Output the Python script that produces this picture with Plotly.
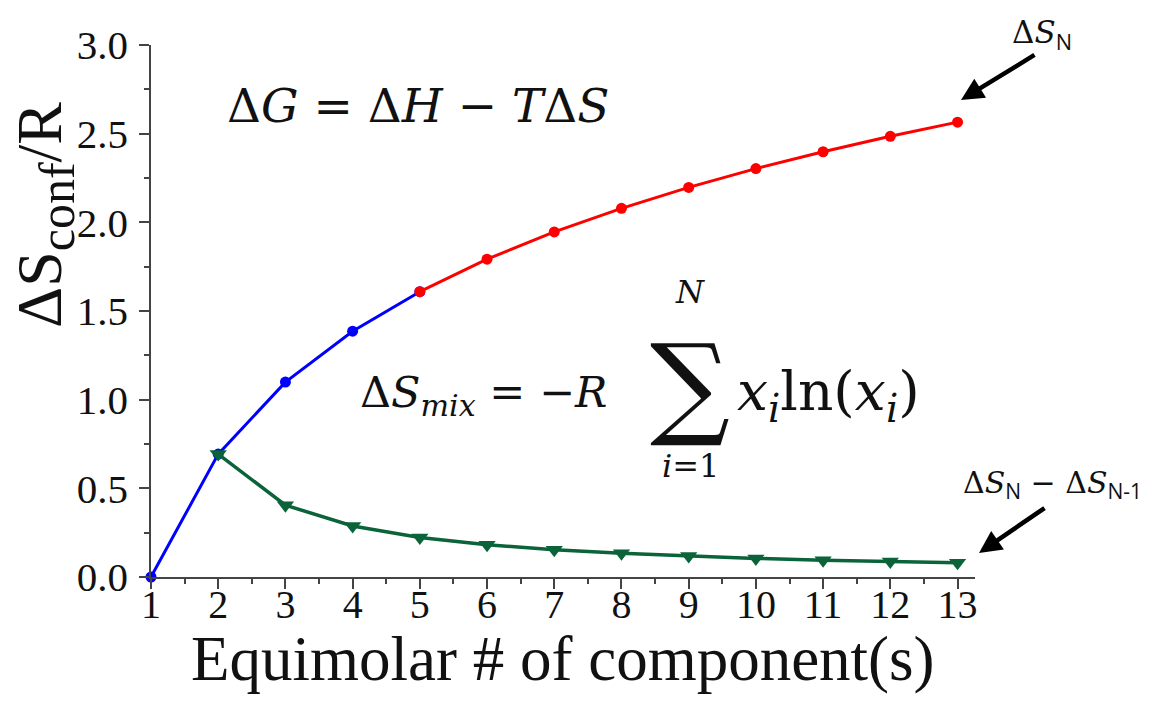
import plotly.graph_objects as go

# ---- data ----
n_blue = [1, 2, 3, 4, 5]
s_blue = [0.0, 0.693, 1.099, 1.386, 1.609]
n_red = [5, 6, 7, 8, 9, 10, 11, 12, 13]
s_red = [1.609, 1.792, 1.946, 2.079, 2.197, 2.303, 2.398, 2.485, 2.565]
n_diff = [2, 3, 4, 5, 6, 7, 8, 9, 10, 11, 12, 13]
s_diff = [0.693, 0.405, 0.288, 0.223, 0.182, 0.154, 0.134, 0.118, 0.105, 0.095, 0.087, 0.080]
x_ticks = list(range(1, 14))
y_ticks = [0.0, 0.5, 1.0, 1.5, 2.0, 2.5, 3.0]

W, H = 1162, 708
L, R, T, B = 151, 975, 45, 577


def px(x):
    return (x - L) / (R - L)


def py(y):
    return (B - y) / (B - T)


SERIF = "Liberation Serif"
MATH = "DejaVu Serif"
SANS = "Open Sans"

fig = go.Figure()
fig.add_trace(go.Scatter(x=n_blue, y=s_blue, mode="lines+markers",
                         line=dict(color="#0000ff", width=3),
                         marker=dict(color="#0000ff", size=11, symbol="circle"),
                         showlegend=False, cliponaxis=False))
fig.add_trace(go.Scatter(x=n_red, y=s_red, mode="lines+markers",
                         line=dict(color="#ff0000", width=3),
                         marker=dict(color="#ff0000", size=11, symbol="circle"),
                         showlegend=False, cliponaxis=False))
fig.add_trace(go.Scatter(x=n_diff, y=s_diff, mode="lines+markers",
                         line=dict(color="#0b6339", width=3.5),
                         marker=dict(color="#0b6339", size=15, symbol="triangle-down"),
                         showlegend=False, cliponaxis=False))

axis_common = dict(showline=True, linecolor="#444", linewidth=1.5,
                   ticks="outside", ticklen=10, tickwidth=1.5, tickcolor="#444",
                   showgrid=False, zeroline=False, mirror=False)

fig.update_xaxes(range=[1, 13.26], tickvals=x_ticks, ticktext=[str(v) for v in x_ticks],
                 minor=dict(ticks="outside", ticklen=5, tickcolor="#444", dtick=0.5, tick0=1),
                 tickfont=dict(family=SERIF, size=40, color="#111"),
                 ticklabelstandoff=-19, **axis_common)
fig.update_yaxes(range=[0, 3.0], tickvals=y_ticks, ticktext=[f"{v:.1f}" for v in y_ticks],
                 minor=dict(ticks="outside", ticklen=5, tickcolor="#444", dtick=0.25, tick0=0),
                 tickfont=dict(family=SERIF, size=41, color="#111"),
                 ticklabelstandoff=3, **axis_common)

ann = []
# axis titles
ann.append(dict(x=px(563), y=py(659), xref="paper", yref="paper", showarrow=False,
                text="Equimolar # of component(s)", font=dict(family=SERIF, size=63, color="#111"),
                xanchor="center", yanchor="middle"))
ann.append(dict(x=px(44), y=py(215), xref="paper", yref="paper", showarrow=False,
                text="ΔS<sub><span style='font-size:50px'>conf</span></sub>/R", textangle=-90,
                font=dict(family=SERIF, size=64, color="#111"),
                xanchor="center", yanchor="middle"))
# equations
ann.append(dict(x=px(225), y=py(105), xref="paper", yref="paper", showarrow=False,
                text="Δ<i>G</i> = Δ<i>H</i> − <i>T</i>Δ<i>S</i>",
                font=dict(family=MATH, size=47, color="#111"),
                xanchor="left", yanchor="middle"))
ann.append(dict(x=px(358), y=py(395), xref="paper", yref="paper", showarrow=False,
                text="Δ<i>S</i><sub><i>mix</i></sub> = −<i>R</i>",
                font=dict(family=MATH, size=43, color="#111"),
                xanchor="left", yanchor="middle"))
ann.append(dict(x=px(690), y=py(385), xref="paper", yref="paper", showarrow=False,
                text="∑", font=dict(family=MATH, size=112, color="#111"),
                xanchor="center", yanchor="middle"))
ann.append(dict(x=px(690), y=py(292), xref="paper", yref="paper", showarrow=False,
                text="<i>N</i>", font=dict(family=MATH, size=32, color="#111"),
                xanchor="center", yanchor="middle"))
ann.append(dict(x=px(690), y=py(466), xref="paper", yref="paper", showarrow=False,
                text="<i>i</i>=1", font=dict(family=MATH, size=32, color="#111"),
                xanchor="center", yanchor="middle"))
ann.append(dict(x=px(735), y=py(395), xref="paper", yref="paper", showarrow=False,
                text="<i>x</i><sub><i>i</i></sub>ln(<i>x</i><sub><i>i</i></sub>)",
                font=dict(family=MATH, size=55, color="#111"),
                xanchor="left", yanchor="middle"))
# labels with arrows
ann.append(dict(x=px(1042), y=py(35), xref="paper", yref="paper", showarrow=False,
                text="Δ<i>S</i><sub><span style='font-family:Open Sans'>N</span></sub>",
                font=dict(family=MATH, size=31, color="#111"),
                xanchor="center", yanchor="middle"))
ann.append(dict(x=px(1052), y=py(485), xref="paper", yref="paper", showarrow=False,
                text="Δ<i>S</i><sub><span style='font-family:Open Sans'>N</span></sub> − "
                     "Δ<i>S</i><sub><span style='font-family:Open Sans'>N-1</span></sub>",
                font=dict(family=MATH, size=30, color="#111"),
                xanchor="center", yanchor="middle"))
ann.append(dict(x=px(961), y=py(100), xref="paper", yref="paper", showarrow=True,
                ax=75, ay=-46, axref="pixel", ayref="pixel", text="",
                arrowhead=2, arrowsize=1, arrowwidth=4.5, arrowcolor="#000"))
ann.append(dict(x=px(979), y=py(553), xref="paper", yref="paper", showarrow=True,
                ax=67, ay=-46, axref="pixel", ayref="pixel", text="",
                arrowhead=2, arrowsize=1, arrowwidth=4.5, arrowcolor="#000"))

fig.update_layout(width=W, height=H,
                  margin=dict(l=L, r=W - R, t=T, b=H - B, autoexpand=False),
                  paper_bgcolor="white", plot_bgcolor="white",
                  annotations=ann, showlegend=False)

fig.write_html("out.html")
